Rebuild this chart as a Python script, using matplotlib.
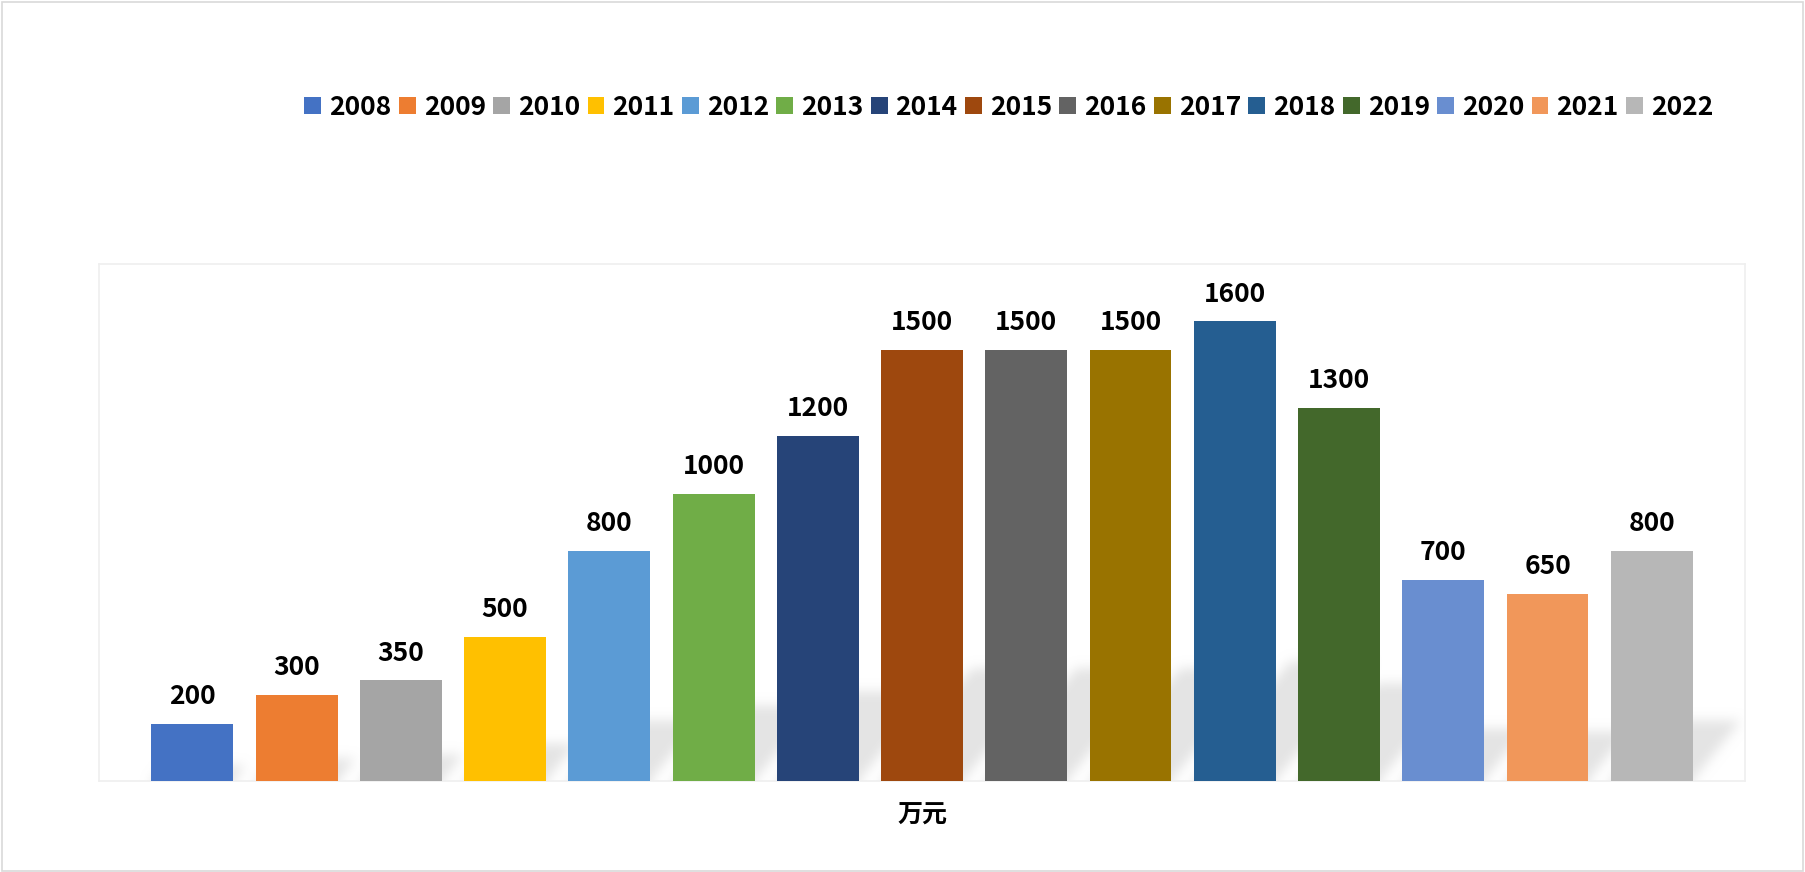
import matplotlib
matplotlib.use("Agg")
from matplotlib import pyplot as plt
from matplotlib.patches import Rectangle
import numpy as np

plt.rcParams['font.family'] = ['Noto Sans CJK SC', 'DejaVu Sans']

years = ["2008", "2009", "2010", "2011", "2012", "2013", "2014", "2015",
         "2016", "2017", "2018", "2019", "2020", "2021", "2022"]
values = [200, 300, 350, 500, 800, 1000, 1200, 1500, 1500, 1500, 1600, 1300, 700, 650, 800]
colors = ["#4472C4", "#ED7D31", "#A5A5A5", "#FFC000", "#5B9BD5", "#70AD47",
          "#264478", "#9E480E", "#636363", "#997300", "#255E91", "#43682B",
          "#698ED0", "#F1975A", "#B7B7B7"]
category = "万元"

bar_w = 0.785
x_lo, x_hi = -0.895, 14.895
y_hi = 1800

fig = plt.figure(figsize=(18.05, 8.72), dpi=100)
# outer border
fig.patches.append(Rectangle((0.001, 0.001), 0.998, 0.997, transform=fig.transFigure,
                             fill=False, edgecolor="#d9d9d9", linewidth=1.2))

ax = fig.add_axes([0.0549, 0.1044, 0.9119, 0.5928])
x = np.arange(len(years))


# perspective shadow of each bar (skewed to the upper right), softened
def box_blur(a, r, axis):
    k = np.ones(2 * r + 1) / (2 * r + 1)
    return np.apply_along_axis(lambda v: np.convolve(v, k, mode="same"), axis, a)


nx, ny = 1650, 230
gx = np.linspace(x_lo, x_hi, nx)
gy = np.linspace(-100, 700, ny)
GX, GY = np.meshgrid(gx, gy)
mask = np.zeros_like(GX)
for i in range(len(values)):
    h = values[i]
    sh = 0.26 * h
    shift = 0.00058 * h
    t = np.clip(GY / sh, 0, None)
    inside = (GY <= sh) & (GX >= x[i] - bar_w / 2 + t * shift) & (GX <= x[i] + bar_w / 2 + t * shift)
    mask[inside] = 1
for _ in range(3):
    mask = box_blur(mask, 5, 1)
    mask = box_blur(mask, 5, 0)
rgba = np.zeros((ny, nx, 4))
rgba[..., :3] = 0.898
rgba[..., 3] = mask
ax.imshow(rgba, extent=(x_lo, x_hi, -100, 700), origin="lower", aspect="auto",
          interpolation="bilinear", zorder=1)

for i in range(len(years)):
    ax.bar(x[i], values[i], width=bar_w, color=colors[i], label=years[i], zorder=3)
    ax.annotate(str(values[i]), (x[i], values[i]), xytext=(0, 10), textcoords="offset points",
                ha="center", va="bottom", fontsize=19, fontweight="heavy", color="black")

ax.set_xlim(x_lo, x_hi)
ax.set_ylim(0, y_hi)
ax.set_yticks([])
ax.set_xticks([7])
ax.set_xticklabels([category], fontsize=18, fontweight="heavy")
ax.tick_params(axis="x", length=0, pad=16)
for s in ax.spines.values():
    s.set_color("#efefef")
    s.set_linewidth(1.2)

fig.legend(loc="center right", bbox_to_anchor=(0.9623, 0.877), ncol=15, frameon=False,
           handlelength=0.64, handleheight=0.6, handletextpad=0.3, columnspacing=0.28,
           prop={"size": 19, "weight": "heavy"})

fig.savefig("out.png", dpi=100)
